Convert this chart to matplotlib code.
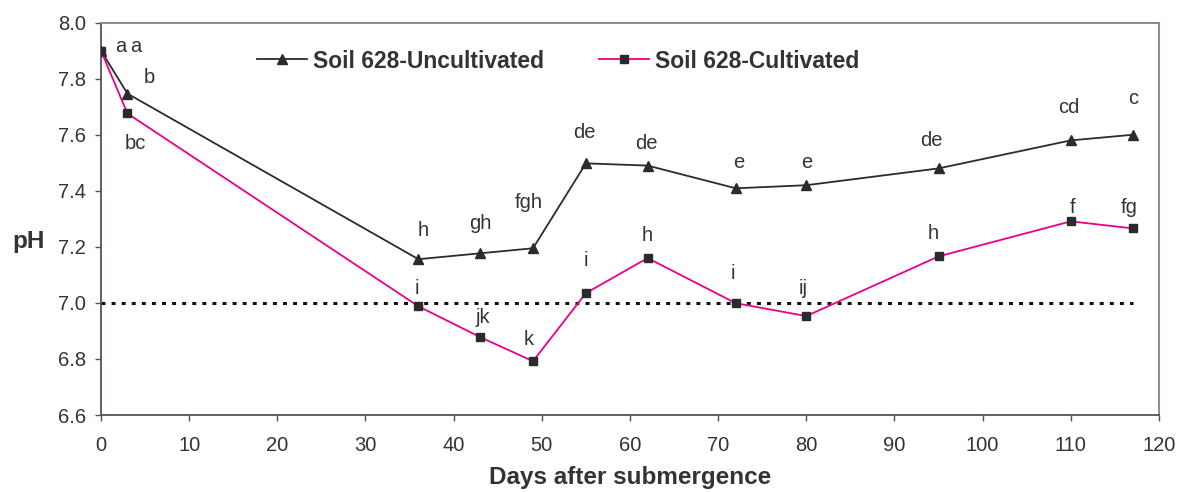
import matplotlib
matplotlib.use('Agg')
import matplotlib.pyplot as plt
from matplotlib.ticker import FormatStrFormatter, MultipleLocator

plt.rcParams['font.family'] = ['Liberation Sans', 'DejaVu Sans']

# Days after submergence
days = [0, 3, 36, 43, 49, 55, 62, 72, 80, 95, 110, 117]

# pH readings
ph_uncult = [7.90, 7.747, 7.156, 7.177, 7.195, 7.498, 7.49, 7.409, 7.42, 7.48, 7.58, 7.60]
ph_cult = [7.90, 7.676, 6.988, 6.878, 6.792, 7.035, 7.16, 6.999, 6.953, 7.166, 7.291, 7.266]

# significance letters
letters_uncult = ['a', 'b', 'h', 'gh', 'fgh', 'de', 'de', 'e', 'e', 'de', 'cd', 'c']
letters_cult = ['a', 'bc', 'i', 'jk', 'k', 'i', 'h', 'i', 'ij', 'h', 'f', 'fg']

# label offsets from each marker (pixels)
off_uncult = [(20, 4), (22, 16), (5, 29), (0, 30), (-4, 46), (-2, 31), (-1, 22),
              (3, 26), (0, 23), (-7, 28), (-2, 33), (1, 36)]
off_cult = [(35, 4), (8, -30), (-2, 18), (3, 20), (-4, 22), (0, 33), (0, 23),
            (-3, 30), (-3, 28), (-5, 23), (2, 14), (-3, 21)]

neutral_ph = 7.0

fig = plt.figure(figsize=(11.77, 4.92), dpi=100)
ax = fig.add_axes([0.0858, 0.1565, 0.8989, 0.7974])

ax.plot(days, ph_uncult, color='#2b2b2b', linewidth=1.3, marker='^', markersize=7,
        markerfacecolor='#2b2b2b', markeredgecolor='#2b2b2b', label='Soil 628-Uncultivated', zorder=3)
ax.plot(days, ph_cult, color='#e8008a', linewidth=1.3, marker='s', markersize=5.5,
        markerfacecolor='#2b2b2b', markeredgecolor='#2b2b2b', label='Soil 628-Cultivated', zorder=3)

# neutral pH reference line
ax.plot([days[0], days[-1]], [neutral_ph, neutral_ph], color='#111111', linewidth=2.2,
        linestyle=(0, (1.3, 2.0)), zorder=2)

for x, y, t, o in zip(days, ph_uncult, letters_uncult, off_uncult):
    ax.annotate(t, (x, y), xytext=o, textcoords='offset pixels', ha='center', va='center',
                fontsize=14.5, color='#333333')
for x, y, t, o in zip(days, ph_cult, letters_cult, off_cult):
    ax.annotate(t, (x, y), xytext=o, textcoords='offset pixels', ha='center', va='center',
                fontsize=14.5, color='#333333')

ax.set_xlim(0, 120)
ax.set_ylim(6.6, 8.0)
ax.xaxis.set_major_locator(MultipleLocator(10))
ax.yaxis.set_major_locator(MultipleLocator(0.2))
ax.yaxis.set_major_formatter(FormatStrFormatter('%.1f'))
ax.tick_params(direction='out', length=4, width=1, labelsize=14.5, colors='#5a5252',
               labelcolor='#333333')
ax.tick_params(axis='y', pad=7)
ax.tick_params(axis='x', pad=11)

for s in ['left', 'bottom']:
    ax.spines[s].set_color('#5a5252')
    ax.spines[s].set_linewidth(1.3)
for s in ['top', 'right']:
    ax.spines[s].set_color('#8a8080')
    ax.spines[s].set_linewidth(1.3)

ax.set_xlabel('Days after submergence', fontsize=17.5, fontweight='bold', color='#333333',
              va='center')
ax.xaxis.set_label_coords(0.5, -0.16)
ax.set_ylabel('pH', fontsize=17.5, fontweight='bold', color='#333333', rotation=0,
              ha='center', va='center')
ax.yaxis.set_label_coords(-0.0685, 0.441)

leg = ax.legend(loc='center left', bbox_to_anchor=(236 / 1177, 1 - 61 / 492),
                bbox_transform=fig.transFigure, ncol=2, frameon=False,
                handlelength=2.2, handletextpad=0.25, columnspacing=2.4,
                prop={'weight': 'bold', 'size': 16.5})
for txt in leg.get_texts():
    txt.set_color('#333333')

fig.savefig('out.png', dpi=100)
